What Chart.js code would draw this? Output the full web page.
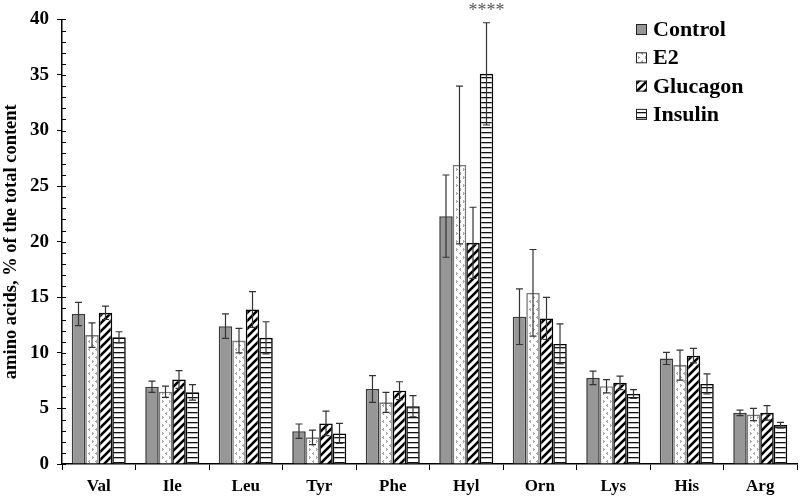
<!DOCTYPE html>
<html>
<head>
<meta charset="utf-8">
<script src="https://cdn.jsdelivr.net/npm/chart.js@4.4.1/dist/chart.umd.min.js"></script>
<style>
  html, body { margin: 0; padding: 0; background: #fff; }
  #wrap { width: 800px; height: 496px; }
</style>
</head>
<body>
<div id="wrap"><canvas id="grafico"></canvas></div>
<script>
// --- DADOS ---
const aminoacidos = ['Val', 'Ile', 'Leu', 'Tyr', 'Phe', 'Hyl', 'Orn', 'Lys', 'His', 'Arg'];
const grupos = ['Control', 'E2', 'Glucagon', 'Insulin'];

const control  = [13.5, 6.95, 12.4, 2.95, 6.75, 22.3, 13.25, 7.75, 9.5, 4.6];
const e2       = [11.6, 6.5, 11.1, 2.4, 5.55, 26.9, 15.4, 7.0, 8.9, 4.45];
const glucagon = [13.6, 7.6, 13.9, 3.65, 6.6, 19.9, 13.1, 7.3, 9.75, 4.6];
const insulin  = [11.4, 6.45, 11.35, 2.75, 5.2, 35.1, 10.8, 6.3, 7.2, 3.5];

const errControl  = [1.05, 0.5, 1.1, 0.65, 1.2, 3.7, 2.5, 0.6, 0.55, 0.25];
const errE2       = [1.1, 0.5, 1.1, 0.65, 0.9, 7.1, 3.9, 0.6, 1.35, 0.55];
const errGlucagon = [0.6, 0.8, 1.6, 1.1, 0.8, 3.2, 1.9, 0.6, 0.65, 0.65];
const errInsulin  = [0.5, 0.7, 1.45, 0.9, 0.95, 4.6, 1.8, 0.4, 0.9, 0.25];

const yTicks = [0, 5, 10, 15, 20, 25, 30, 35, 40];
const significancia = { grupo: 3, indice: 5, texto: '****' };

const fonteSerif = '"Liberation Serif", "Times New Roman", serif';

document.addEventListener('DOMContentLoaded', () => {
    const canvas = document.getElementById('grafico');
    const ctx = canvas.getContext('2d');

    // --- PADRÕES DE PREENCHIMENTO ---
    function criarPadrao(w, h, desenhar) {
        const c = document.createElement('canvas');
        c.width = w; c.height = h;
        const g = c.getContext('2d');
        g.fillStyle = '#fff';
        g.fillRect(0, 0, w, h);
        desenhar(g, w, h);
        return ctx.createPattern(c, 'repeat');
    }

    const padraoE2 = criarPadrao(7, 8, (g) => {
        g.strokeStyle = '#7a7a7a';
        g.lineWidth = 1;
        g.beginPath();
        g.moveTo(1, 0.5); g.lineTo(2.5, 1.5); g.lineTo(1, 2.5);
        g.moveTo(6, 4.5); g.lineTo(4.5, 5.5); g.lineTo(6, 6.5);
        g.stroke();
    });

    const padraoGlucagon = criarPadrao(8, 8, (g) => {
        g.strokeStyle = '#000';
        g.lineWidth = 2.6;
        g.beginPath();
        g.moveTo(-2, 10); g.lineTo(10, -2);
        g.moveTo(-2, 2); g.lineTo(2, -2);
        g.moveTo(6, 10); g.lineTo(10, 6);
        g.stroke();
    });

    const padraoInsulin = criarPadrao(5, 5, (g) => {
        g.fillStyle = '#111';
        g.fillRect(0, 2, 5, 1.3);
    });

    const erros = [errControl, errE2, errGlucagon, errInsulin];

    // --- PLUGINS ---
    const barrasErro = {
        id: 'barrasErro',
        afterDatasetsDraw(chart) {
            const y = chart.scales.y;
            const c = chart.ctx;
            c.save();
            c.strokeStyle = '#333';
            c.lineWidth = 1.2;
            chart.data.datasets.forEach((ds, di) => {
                const meta = chart.getDatasetMeta(di);
                meta.data.forEach((bar, i) => {
                    const v = ds.data[i], e = erros[di][i];
                    const yTop = y.getPixelForValue(v + e);
                    const yBot = y.getPixelForValue(v - e);
                    c.beginPath();
                    c.moveTo(bar.x, yTop); c.lineTo(bar.x, yBot);
                    c.moveTo(bar.x - 3.5, yTop); c.lineTo(bar.x + 3.5, yTop);
                    c.moveTo(bar.x - 3.5, yBot); c.lineTo(bar.x + 3.5, yBot);
                    c.stroke();
                });
            });
            // asteriscos de significância
            const s = significancia;
            const bar = chart.getDatasetMeta(s.grupo).data[s.indice];
            const topo = y.getPixelForValue(insulin[s.indice] + errInsulin[s.indice]);
            c.fillStyle = '#555';
            c.font = '18px ' + fonteSerif;
            c.textAlign = 'center';
            c.textBaseline = 'bottom';
            c.fillText(s.texto, bar.x, topo - 2);
            c.restore();
        }
    };

    const ticksMenores = {
        id: 'ticksMenores',
        afterDraw(chart) {
            const y = chart.scales.y;
            const c = chart.ctx;
            const x0 = chart.chartArea.left;
            c.save();
            c.strokeStyle = '#000';
            c.lineWidth = 1;
            c.beginPath();
            for (let v = y.min; v <= y.max; v++) {
                const py = Math.round(y.getPixelForValue(v)) + 0.5;
                c.moveTo(x0, py); c.lineTo(x0 + 4, py);
            }
            c.stroke();
            c.restore();
        }
    };

    const legendaPadrao = {
        id: 'legendaPadrao',
        afterDraw(chart) {
            const c = chart.ctx;
            c.save();
            c.font = 'bold 22px ' + fonteSerif;
            c.textBaseline = 'middle';
            c.textAlign = 'left';
            chart.data.datasets.forEach((ds, i) => {
                const yc = 29.5 + i * 28.3;
                c.fillStyle = ds.backgroundColor;
                c.fillRect(636, yc - 5.5, 11, 11);
                c.strokeStyle = '#222';
                c.lineWidth = 1;
                c.strokeRect(636.5, yc - 5, 10, 10);
                c.fillStyle = '#000';
                c.fillText(ds.label, 653, yc + 1);
            });
            c.restore();
        }
    };

    const estilos = [
        { bg: '#979797', bd: '#3a3a3a' },
        { bg: padraoE2, bd: '#7a7a7a' },
        { bg: padraoGlucagon, bd: '#000' },
        { bg: padraoInsulin, bd: '#000' }
    ];
    const series = [control, e2, glucagon, insulin];

    new Chart(ctx, {
        type: 'bar',
        data: {
            labels: aminoacidos,
            datasets: series.map((dados, i) => ({
                label: grupos[i],
                data: dados,
                backgroundColor: estilos[i].bg,
                borderColor: estilos[i].bd,
                borderWidth: 1.6,
                borderSkipped: 'bottom',
                categoryPercentage: 0.735,
                barPercentage: 1.0
            }))
        },
        options: {
            responsive: true,
            maintainAspectRatio: false,
            animation: false,
            layout: { padding: { top: 10, right: 3, left: 0, bottom: 0 } },
            plugins: {
                legend: { display: false },
                tooltip: { enabled: false }
            },
            scales: {
                x: {
                    grid: { drawOnChartArea: false, drawTicks: true, tickLength: 6, color: '#000', offset: true },
                    border: { display: true, color: '#000', width: 1.5 },
                    ticks: { color: '#000', font: { family: fonteSerif, size: 17, weight: 'bold' }, padding: 6 },
                    afterFit: (scale) => { scale.height = 32; }
                },
                y: {
                    min: 0,
                    max: 40,
                    afterBuildTicks: (scale) => { scale.ticks = yTicks.map(v => ({ value: v })); },
                    grid: { drawOnChartArea: false, drawTicks: true, tickLength: 5, color: '#000' },
                    border: { display: true, color: '#000', width: 1.5 },
                    ticks: { color: '#000', font: { family: fonteSerif, size: 19, weight: 'bold' }, padding: 8 },
                    title: {
                        display: true,
                        text: 'amino acids, % of the total content',
                        color: '#000',
                        font: { family: fonteSerif, size: 18.5, weight: 'bold' },
                        padding: { top: 0, bottom: 0 }
                    },
                    afterFit: (scale) => { scale.width = 62; }
                }
            }
        },
        plugins: [barrasErro, ticksMenores, legendaPadrao]
    });
});
</script>
</body>
</html>
